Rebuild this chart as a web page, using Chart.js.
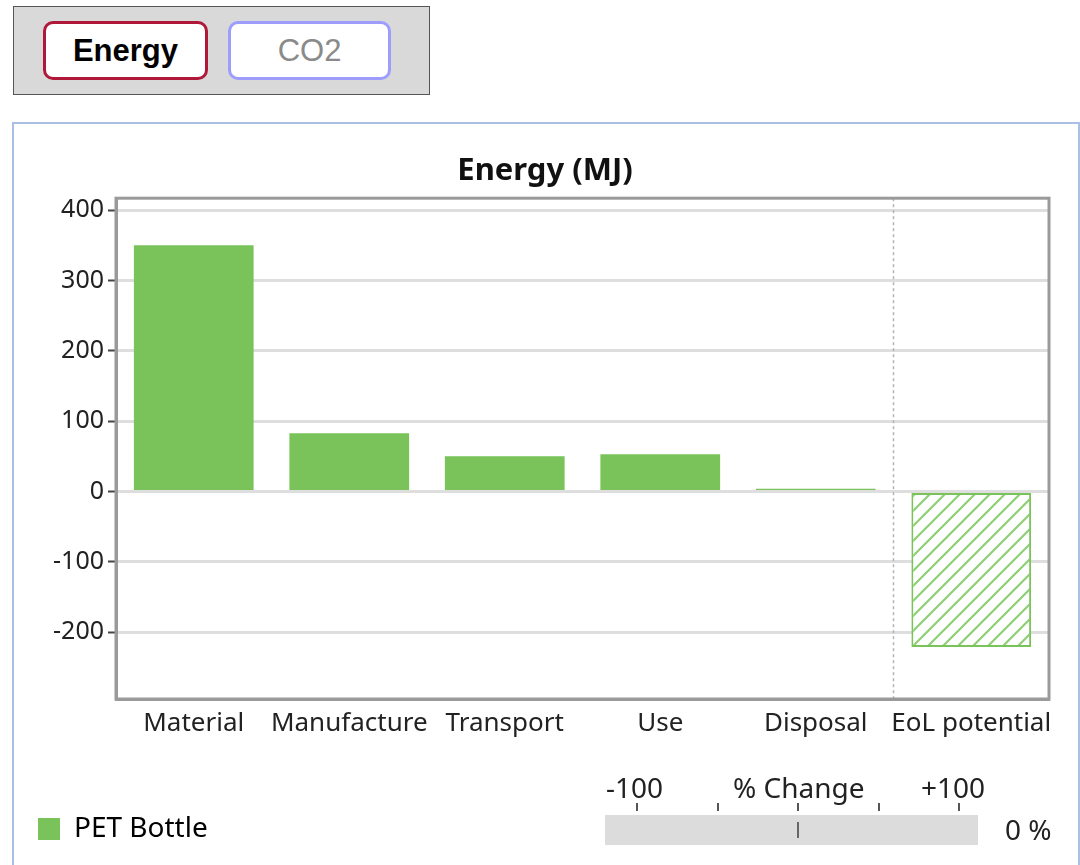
<!DOCTYPE html>
<html>
<head>
<meta charset="utf-8">
<script src="https://cdn.jsdelivr.net/npm/chart.js@4.4.0/dist/chart.umd.min.js"></script>
<style>
  html, body { margin: 0; padding: 0; background: #fff; overflow: hidden; }
  body { width: 1080px; height: 865px; position: relative; font-family: "Noto Sans", sans-serif; }
  .switch { position: absolute; left: 13px; top: 6px; width: 415px; height: 87px; background: #d9d9d9; border: 1.5px solid #555; }
  .btn { position: absolute; top: 14px; border-radius: 10px; background: #fff; box-sizing: border-box;
         font-family: "Liberation Sans", Arial, sans-serif; font-size: 31px; text-align: center; }
  .btn.on { left: 29px; width: 165px; height: 59px; line-height: 53px; border: 3px solid #b0183a; font-weight: bold; color: #000; }
  .btn.off { left: 214px; width: 163px; height: 59px; line-height: 53px; border: 3px solid #9d9dff; color: #8a8a8a; }
  .panel { position: absolute; left: 12px; top: 122px; width: 1064px; height: 760px; border: 2px solid #a9c0e4; }
  #wrap { position: absolute; left: 12px; top: 122px; width: 1066px; height: 743px; }
  .pc { position: absolute; font-size: 28px; line-height: 32px; color: #222; }
  .pcbar { position: absolute; left: 605px; top: 815px; width: 373px; height: 30px; background: #dcdcdc; }
  .tk { position: absolute; top: 803px; width: 1.5px; height: 8px; background: #555; }
</style>
</head>
<body>
<div class="switch">
  <div class="btn on">Energy</div>
  <div class="btn off">CO2</div>
</div>
<div class="panel"></div>
<div id="wrap"><canvas id="chart"></canvas></div>

<div class="pc" style="left:606px; top:771px;">-100</div>
<div class="pc" style="left:733px; top:771px;">% Change</div>
<div class="pc" style="left:921px; top:771px;">+100</div>
<div class="tk" style="left:636px;"></div>
<div class="tk" style="left:717px;"></div>
<div class="tk" style="left:797px;"></div>
<div class="tk" style="left:878px;"></div>
<div class="tk" style="left:958px;"></div>
<div class="pcbar"></div>
<div style="position:absolute; left:797px; top:822px; width:2px; height:16px; background:#666;"></div>
<div class="pc" style="left:1005px; top:813px;">0 %</div>

<script>
const categories = ['Material', 'Manufacture', 'Transport', 'Use', 'Disposal', 'EoL potential'];
const energyValues = [350, 83, 50, 53, 4, -221];
const yTicks = [-200, -100, 0, 100, 200, 300, 400];
const seriesName = 'PET Bottle';

const green = '#79c35a';

function hatch() {
    const c = document.createElement('canvas');
    c.width = 15; c.height = 15;
    const g = c.getContext('2d');
    g.fillStyle = '#fff';
    g.fillRect(0, 0, 15, 15);
    g.strokeStyle = '#8fcf75';
    g.lineWidth = 2.2;
    g.beginPath();
    g.moveTo(-2, 17); g.lineTo(17, -2);
    g.moveTo(-2, 2); g.lineTo(2, -2);
    g.moveTo(13, 17); g.lineTo(17, 13);
    g.stroke();
    return g.createPattern(c, 'repeat');
}

const lastIdx = categories.length - 1;
const fills = categories.map((c, i) => i === lastIdx ? hatch() : green);
const borders = categories.map((c, i) => i === lastIdx ? 2 : 0);

// frame round the plot + dashed split before EoL
const framePlugin = {
    id: 'frame',
    beforeDatasetsDraw(chart) {
        const { ctx, chartArea: a, scales: { x } } = chart;
        const xs = (x.getPixelForValue(lastIdx - 1) + x.getPixelForValue(lastIdx)) / 2;
        ctx.save();
        ctx.strokeStyle = '#b4b4b4';
        ctx.lineWidth = 1.5;
        ctx.setLineDash([3, 3]);
        ctx.beginPath();
        ctx.moveTo(xs, a.top);
        ctx.lineTo(xs, a.bottom);
        ctx.stroke();
        ctx.restore();
    },
    afterDraw(chart) {
        const { ctx, chartArea: a } = chart;
        ctx.save();
        ctx.strokeStyle = '#9a9a9a';
        ctx.lineWidth = 3;
        ctx.strokeRect(a.left, a.top, a.right - a.left, a.bottom - a.top);
        ctx.restore();
    }
};

new Chart(document.getElementById('chart'), {
    type: 'bar',
    data: {
        labels: categories,
        datasets: [{
            label: seriesName,
            data: energyValues,
            backgroundColor: fills,
            borderColor: green,
            borderWidth: borders,
            borderSkipped: false,
            categoryPercentage: 1,
            barPercentage: 0.77
        }]
    },
    options: {
        responsive: true,
        maintainAspectRatio: false,
        animation: false,
        layout: { padding: { left: 0, right: 0, top: 0, bottom: 12 } },
        plugins: {
            title: {
                display: true,
                text: 'Energy (MJ)',
                color: '#111',
                font: { family: 'Noto Sans', size: 31, weight: 'bold' },
                padding: { top: 31, bottom: 8 }
            },
            legend: {
                position: 'bottom',
                align: 'start',
                labels: {
                    color: '#222',
                    font: { family: 'Noto Sans', size: 28 },
                    boxWidth: 22,
                    boxHeight: 22,
                    padding: 26,
                    generateLabels: (chart) => [{
                        text: seriesName,
                        fillStyle: green,
                        strokeStyle: green,
                        lineWidth: 0,
                        datasetIndex: 0
                    }]
                }
            },
            tooltip: { enabled: false }
        },
        scales: {
            x: {
                grid: { display: false },
                border: { display: true, color: '#9a9a9a', width: 3 },
                ticks: { color: '#222', font: { family: 'Noto Sans', size: 26 }, padding: 1, maxRotation: 0, autoSkip: false },
                afterFit: (s) => { s.height = 90; }
            },
            y: {
                min: -295,
                max: 417,
                afterBuildTicks: (s) => { s.ticks = yTicks.map(v => ({ value: v })); },
                grid: { color: '#dedede', lineWidth: 3, tickColor: '#444', tickWidth: 2, tickLength: 8 },
                border: { display: true, color: '#9a9a9a', width: 3 },
                ticks: { color: '#222', font: { family: 'Noto Sans', size: 25 }, padding: 4 },
                afterFit: (s) => { s.width = 104; }
            },
            yR: {
                position: 'right',
                display: true,
                grid: { display: false },
                border: { display: false },
                ticks: { display: false },
                afterFit: (s) => { s.width = 29; }
            }
        }
    },
    plugins: [framePlugin]
});
</script>
</body>
</html>
